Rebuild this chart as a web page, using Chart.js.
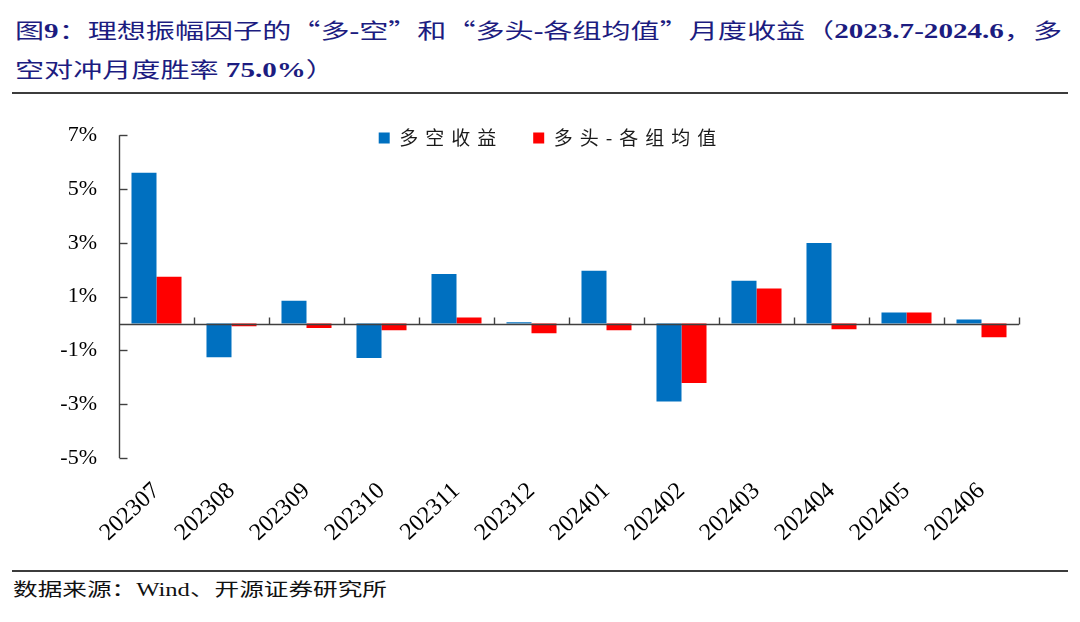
<!DOCTYPE html>
<html><head><meta charset="utf-8">
<script src="https://cdn.jsdelivr.net/npm/chart.js@4.4.1/dist/chart.umd.min.js"></script>
<style>
html,body{margin:0;padding:0;background:#fff;width:1080px;height:622px;overflow:hidden;position:relative;}
#title{position:absolute;left:15px;top:10px;color:#1c1c80;font-family:'Liberation Serif','Noto Sans CJK SC',serif;font-size:21px;line-height:39px;white-space:nowrap;transform-origin:0 0;}
#title b{font-weight:bold;}
#title .q{font-family:'Noto Sans CJK SC';}
.rule{position:absolute;left:12px;width:1056px;background:#3c3c3c;}
#footer{position:absolute;left:13px;top:578px;font-family:'Liberation Serif','Noto Sans CJK SC',serif;font-size:18px;line-height:24px;white-space:nowrap;transform-origin:0 0;color:#111;}
#wrap{position:absolute;left:0;top:100px;width:1080px;height:465px;}
</style></head>
<body>
<div id="title"><div id="t1">图<b>9</b>：理想振幅因子的<span class="q">“</span>多<b>-</b>空<span class="q">”</span>和<span class="q">“</span>多头<b>-</b>各组均值<span class="q">”</span>月度收益（<b>2023.7-2024.6</b>，多</div><div id="t2">空对冲月度胜率 <b>75.0%</b>）</div></div>
<div class="rule" style="top:92px;height:2px;"></div>
<div id="wrap"><canvas id="c" width="1080" height="465"></canvas></div>
<div class="rule" style="top:570px;height:1.5px;"></div>
<div id="footer">数据来源：Wind、开源证券研究所</div>
<script>
// ---- data ----
const categories = ['202307','202308','202309','202310','202311','202312','202401','202402','202403','202404','202405','202406'];
const longShort = [5.60, -1.25, 0.85, -1.28, 1.84, 0.05, 1.96, -2.90, 1.59, 2.99, 0.41, 0.15];
const longMinusAvg = [1.74, -0.10, -0.17, -0.25, 0.22, -0.36, -0.25, -2.21, 1.30, -0.21, 0.41, -0.51];
const seriesNames = ['多空收益', '多头-各组均值'];
const Y_MIN = -5, Y_MAX = 7, Y_STEP = 2;

// ---- layout constants ----
const LEGEND_CX = 551, LEGEND_CY = 38, LEGEND_FS = 19, LEGEND_BOX = 11, LEGEND_PAD = 30, LEGEND_LS = '7px';
const AXIS_COLOR = '#404040';

// scale title / footer text to match widths
(function(){
  const t1 = document.getElementById('t1');
  const w = t1.getBoundingClientRect().width;
  document.getElementById('title').style.transform = 'scaleX(' + (1047 / w) + ')';
  const f = document.getElementById('footer');
  const fw = f.getBoundingClientRect().width;
  f.style.transform = 'scaleX(' + (374 / fw) + ')';
})();

const axisPlugin = {
  id: 'axisDraw',
  beforeLayout(chart) {
    const lg = chart.legend;
    if (lg && !lg._wrapped) {
      lg._wrapped = true;
      const origFit = lg.fit.bind(lg);
      lg.fit = function() {
        const c = this.ctx; c.save(); c.letterSpacing = LEGEND_LS; origFit(); c.restore();
        this._h = this.height; this.height = 0;
      };
      const origDraw = lg.draw.bind(lg);
      lg.draw = function(a) {
        const c = this.ctx; c.save(); c.letterSpacing = LEGEND_LS; origDraw(a); c.restore();
      };
    }
  },
  afterLayout(chart) {
    const lg = chart.legend;
    const ih = Math.max(LEGEND_FS, LEGEND_BOX);
    const top = LEGEND_CY - LEGEND_PAD - ih / 2;
    lg.top = top; lg.height = lg._h; lg.bottom = top + lg._h;
    const w = lg.right - lg.left;
    lg.left = LEGEND_CX - w / 2; lg.right = LEGEND_CX + w / 2;
  },
  afterDatasetsDraw(chart) {
    const {ctx, chartArea: ca, scales: {x, y}} = chart;
    ctx.save();
    ctx.strokeStyle = AXIS_COLOR;
    ctx.lineWidth = 1.4;
    const L = Math.round(ca.left) + 0.5;
    const line = (x1, y1, x2, y2) => { ctx.beginPath(); ctx.moveTo(x1, y1); ctx.lineTo(x2, y2); ctx.stroke(); };
    line(L, y.getPixelForValue(Y_MAX), L, y.getPixelForValue(Y_MIN));
    y.ticks.forEach(t => {
      const py = Math.round(y.getPixelForValue(t.value)) + 0.5;
      line(L, py, L + 8, py);
    });
    const y0 = Math.round(y.getPixelForValue(0)) + 0.5;
    line(L, y0, ca.right, y0);
    const n = categories.length;
    for (let i = 0; i < n; i++) {
      const bx = (i < n - 1) ? (x.getPixelForValue(i) + x.getPixelForValue(i + 1)) / 2 : ca.right;
      const px = Math.round(bx) + 0.5;
      line(px, y0 - 7, px, y0);
    }
    ctx.restore();
  }
};

new Chart(document.getElementById('c'), {
  type: 'bar',
  data: {
    labels: categories,
    datasets: [
      { label: seriesNames[0], data: longShort, backgroundColor: '#0070C0', categoryPercentage: 0.667, barPercentage: 1.0 },
      { label: seriesNames[1], data: longMinusAvg, backgroundColor: '#FF0000', categoryPercentage: 0.667, barPercentage: 1.0 }
    ]
  },
  options: {
    responsive: false,
    animation: false,
    devicePixelRatio: 1,
    layout: { padding: { top: 34, right: 61, left: 0, bottom: 0 } },
    plugins: {
      legend: {
        position: 'top',
        labels: {
          boxWidth: LEGEND_BOX, boxHeight: LEGEND_BOX, padding: LEGEND_PAD,
          color: '#1a1a1a',
          font: { family: "'Noto Sans CJK SC'", size: LEGEND_FS }
        }
      },
      tooltip: { enabled: false }
    },
    scales: {
      x: {
        grid: { display: false, drawTicks: false },
        border: { display: false },
        ticks: {
          autoSkip: false, maxRotation: 43, minRotation: 43, padding: 19,
          color: '#000',
          font: { family: "'Liberation Serif'", size: 24 }
        },
        afterFit(s) { s.height = 107; }
      },
      y: {
        min: Y_MIN, max: Y_MAX,
        grid: { display: false, drawTicks: false },
        border: { display: false },
        ticks: {
          stepSize: Y_STEP, padding: 22, color: '#000',
          font: { family: "'Liberation Serif'", size: 22 },
          callback: v => v + '%'
        },
        afterFit(s) { s.width = 119; }
      }
    }
  },
  plugins: [axisPlugin]
});
</script>
</body></html>
